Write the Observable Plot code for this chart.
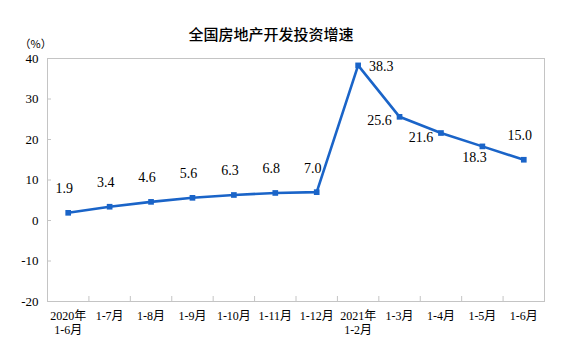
<!DOCTYPE html>
<html>
<head>
<meta charset="utf-8">
<script src="https://cdn.jsdelivr.net/npm/d3@7"></script>
<script src="https://cdn.jsdelivr.net/npm/@observablehq/plot@0.6"></script>
<style>
  html, body { margin: 0; padding: 0; background: #fff; }
  #chart svg { display: block; }
</style>
</head>
<body>
<div id="chart"></div>
<script>
const title = "全国房地产开发投资增速";
const unitLabel = "（%）";
const categories = ["2020年\n1-6月", "1-7月", "1-8月", "1-9月", "1-10月", "1-11月", "1-12月", "2021年\n1-2月", "1-3月", "1-4月", "1-5月", "1-6月"];
const values = [1.9, 3.4, 4.6, 5.6, 6.3, 6.8, 7.0, 38.3, 25.6, 21.6, 18.3, 15.0];
const valueLabels = ["1.9", "3.4", "4.6", "5.6", "6.3", "6.8", "7.0", "38.3", "25.6", "21.6", "18.3", "15.0"];
const yTicks = [-20, -10, 0, 10, 20, 30, 40];

const data = values.map((v, i) => ({i, v, label: valueLabels[i]}));
const boundaries = categories.slice(1).map((_, i) => i + 0.5);

const serif = "'Liberation Serif', 'Times New Roman', 'Noto Sans CJK SC', serif";
const blue = "#1a64c8";

const above = data.filter(d => d.i <= 6 || d.i === 11);
const right = data.filter(d => d.i === 7);
const left = data.filter(d => d.i === 8 || d.i === 9);
const below = data.filter(d => d.i === 10);

const chart = Plot.plot({
  width: 578,
  height: 354,
  marginLeft: 47,
  marginRight: 34,
  marginTop: 58,
  marginBottom: 53,
  style: {fontFamily: serif, color: "#000", background: "#fff"},
  x: {type: "linear", domain: [-0.5, categories.length - 0.5], label: null},
  y: {domain: [-20, 40], label: null},
  marks: [
    Plot.frame({stroke: "#c4c4c4", strokeWidth: 1}),
    Plot.axisY({ticks: yTicks, tickSize: 0, tickPadding: 9, fontSize: 13, label: null, tickFormat: d => String(d)}),
    Plot.axisY({ticks: yTicks.slice(1, -1), tickSize: -4, text: null, label: null, stroke: "#c4c4c4"}),
    Plot.axisX({ticks: d3.range(categories.length), tickSize: 0, tickPadding: 9, fontSize: 12, label: null, tickFormat: i => categories[i], lineHeight: 1.15}),
    Plot.axisX({ticks: boundaries, tickSize: -5, text: null, label: null, stroke: "#c4c4c4"}),
    Plot.line(data, {x: "i", y: "v", stroke: blue, strokeWidth: 2.6}),
    Plot.dot(data, {x: "i", y: "v", symbol: "square", r: 3.2, fill: blue, stroke: "none"}),
    Plot.text(above, {x: "i", y: "v", text: "label", dx: -4, dy: -24, fontSize: 14}),
    Plot.text(right, {x: "i", y: "v", text: "label", dx: 23, dy: 1, fontSize: 14}),
    Plot.text(left, {x: "i", y: "v", text: "label", dx: -20, dy: 4, fontSize: 14}),
    Plot.text(below, {x: "i", y: "v", text: "label", dx: -8, dy: 11, fontSize: 14}),
    Plot.text([title], {frameAnchor: "top", dx: -25, dy: -29, fontSize: 15, fontWeight: 500, fontFamily: "'Noto Sans CJK SC', sans-serif"}),
    Plot.text([unitLabel], {frameAnchor: "top-left", lineAnchor: "bottom", dx: -28, dy: -11, fontSize: 11, fontFamily: "'Noto Sans CJK SC', sans-serif"})
  ]
});
document.getElementById("chart").appendChild(chart);
</script>
</body>
</html>
